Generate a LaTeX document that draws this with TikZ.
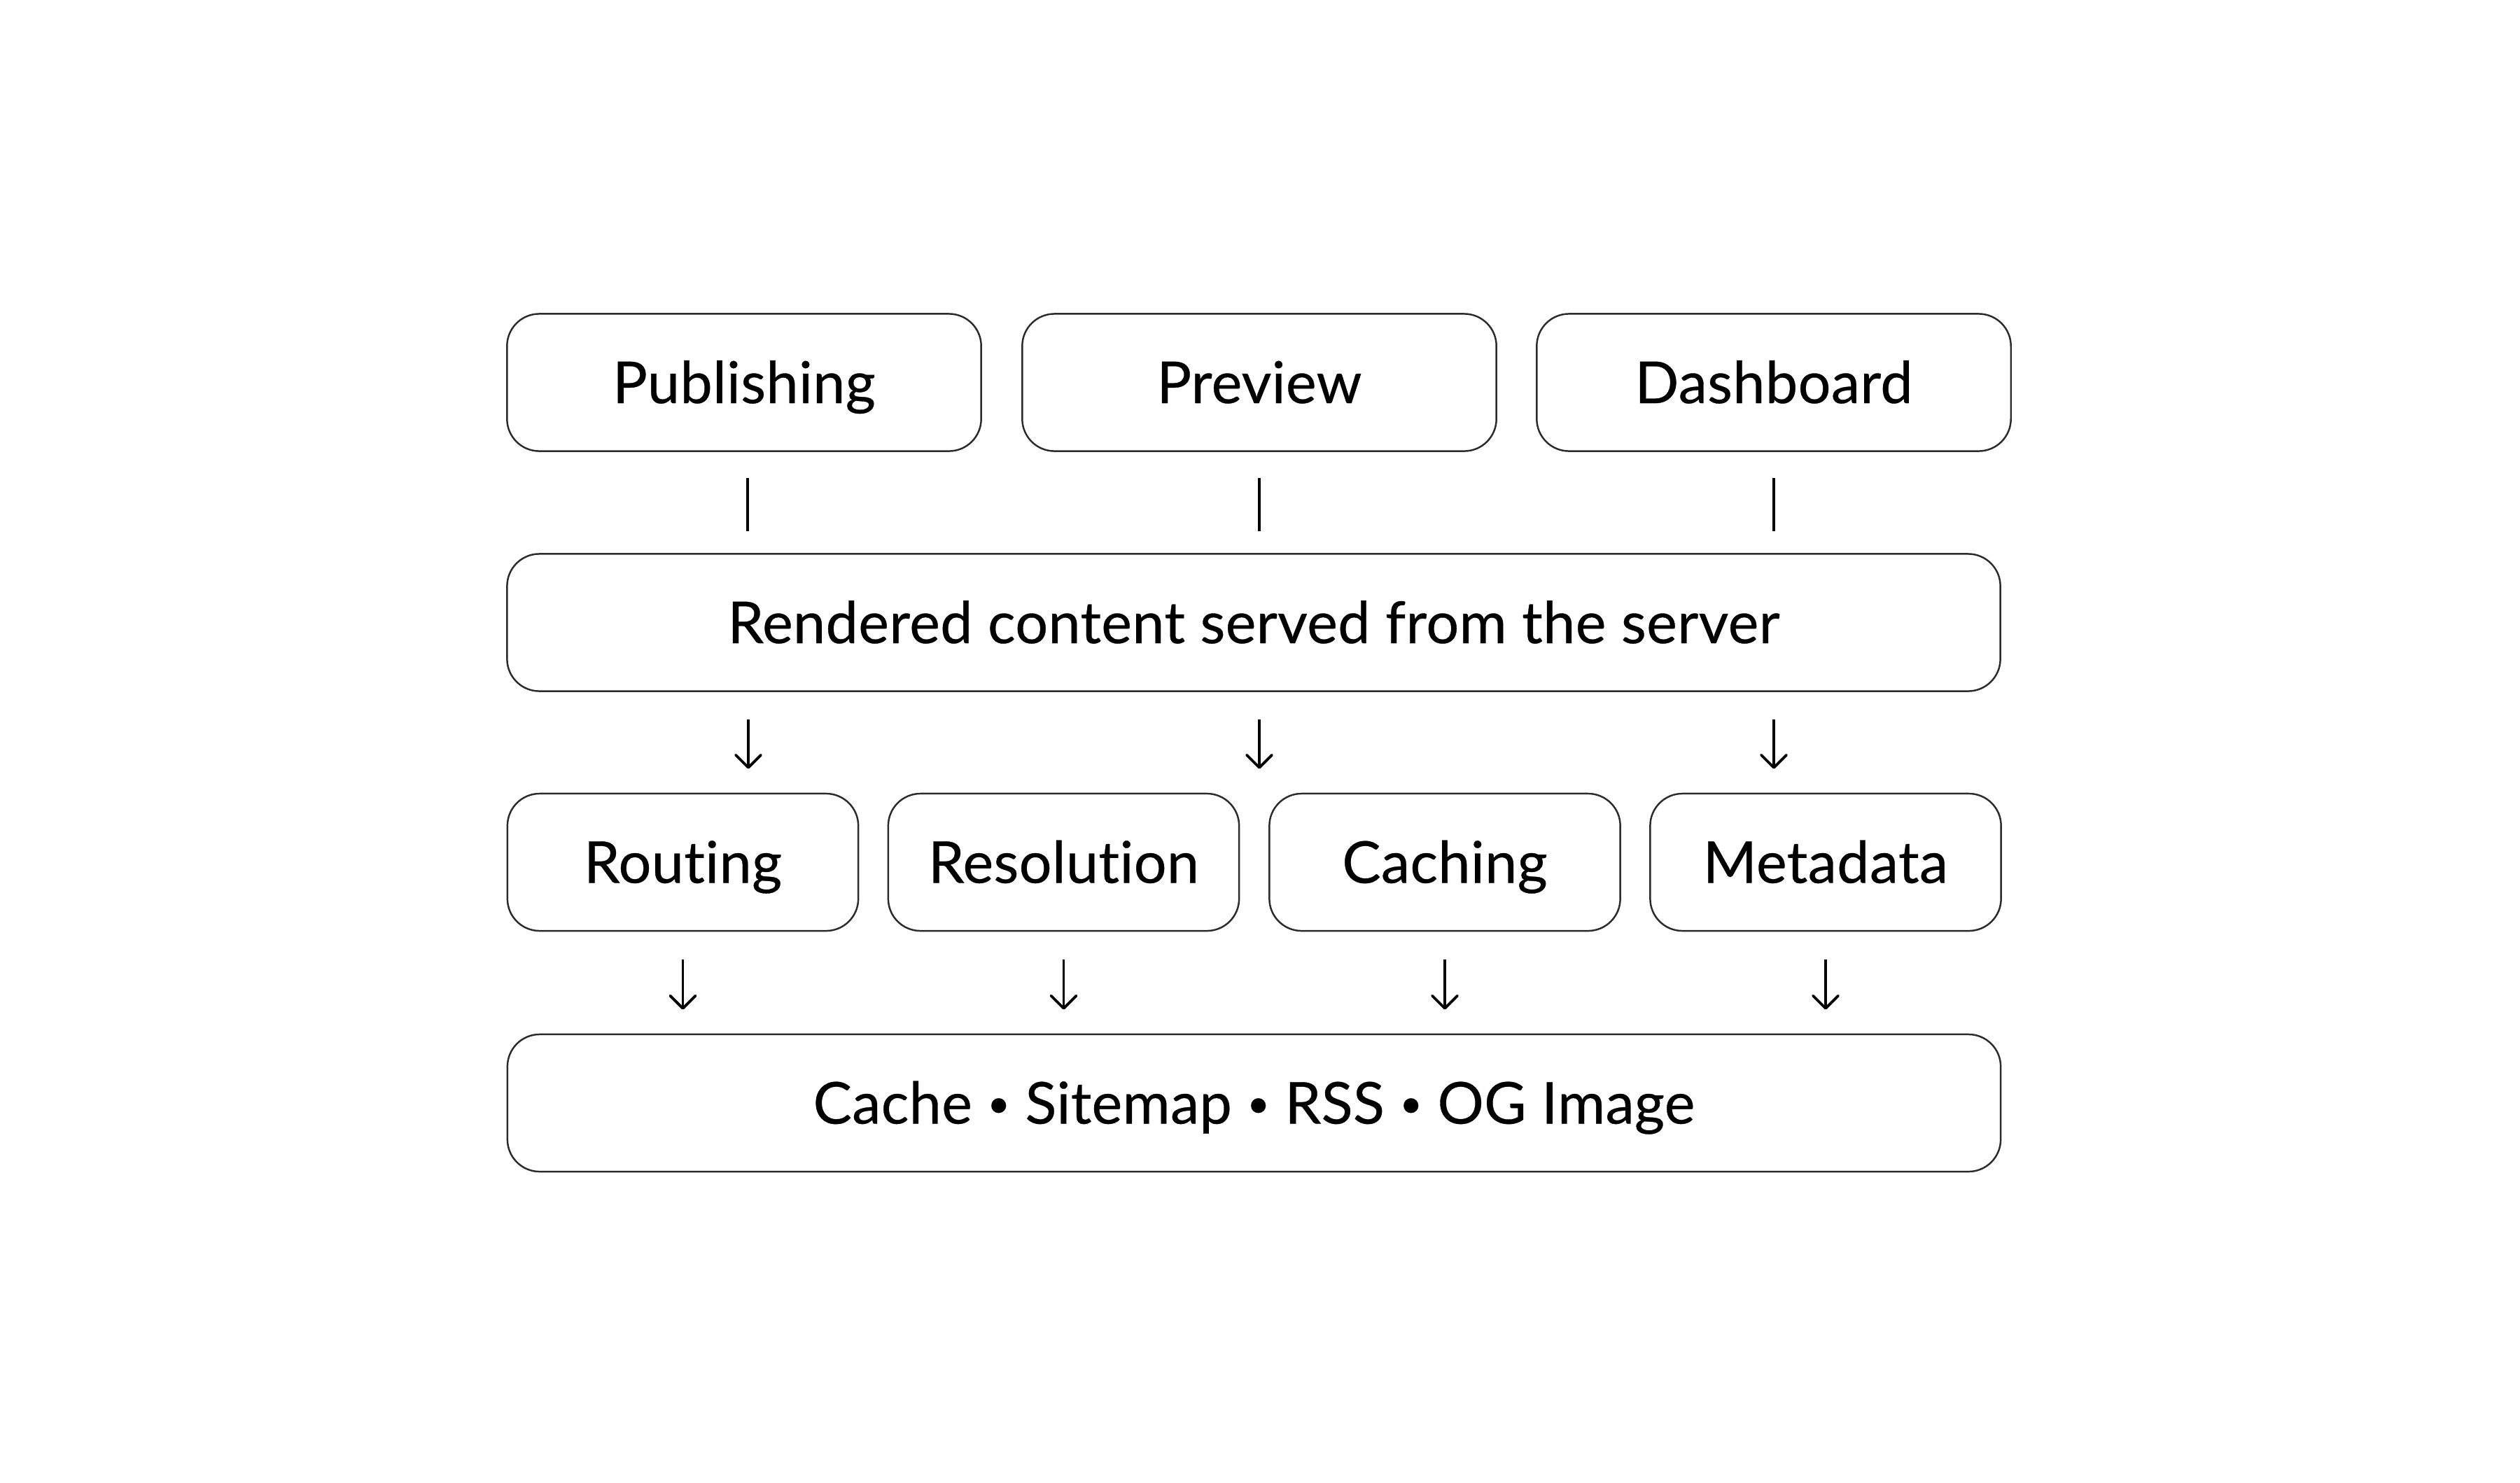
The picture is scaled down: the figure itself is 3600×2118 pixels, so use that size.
\documentclass[tikz,border=0pt]{standalone}
\usepackage{fontspec}
\setmainfont{Lato}[Ligatures=NoCommon,LetterSpace=0.5,FakeBold=0.4]
\usetikzlibrary{arrows.meta}
\definecolor{boxgray}{HTML}{2B2B2B}
\newcommand{\sepdot}{{\fontsize{16}{16}\selectfont\raisebox{0.09cm}{•}}}

\begin{document}
\begin{tikzpicture}[x=0.01cm,y=-0.01cm,
        box/.style={draw=boxgray,line width=0.7pt,rounded corners=0.46cm,
            minimum height=1.96cm,text height=0.59cm,text depth=0pt,inner sep=0pt,
            font=\fontsize{23.5}{28}\selectfont},
        top box/.style={box,minimum width=6.77cm},
        wide box/.style={box,minimum width=21.32cm},
        stage box/.style={box,minimum width=5.01cm},
        link/.style={line width=1.1pt,shorten <=0.37cm,shorten >=0.31cm},
        flow/.style={-{Straight Barb[length=0.18cm,width=0.36cm,round]},line width=1.1pt}]

    \useasboundingbox (0,0) rectangle (3600,2118);

    \node[top box] (pub) at (1063,546.5) {Publishing};
    \node[top box] (prev) at (1799,546.5) {Preview};
    \node[top box] (dash) at (2534,546.5) {Dashboard};

    \node[wide box] (rend) at (1791,889.5) {Rendered content served from the server};

    \node[stage box] (route) at (975.5,1232) {Routing};
    \node[stage box] (res) at (1519.5,1232) {Resolution};
    \node[stage box] (cache) at (2064,1232) {Caching};
    \node[stage box] (meta) at (2608,1232) {Metadata};

    \node[wide box] (out) at (1791.5,1576) {Cache \sepdot{} Sitemap \sepdot{} RSS \sepdot{} OG Image};

    \draw[link] ([xshift=0.05cm]pub.south) -- ([xshift=0.05cm]pub.south |- rend.north);
    \draw[link] (prev.south) -- (prev.south |- rend.north);
    \draw[link] (dash.south) -- (dash.south |- rend.north);

    \draw[flow,shorten <=0.39cm,shorten >=0.34cm] ([xshift=0.06cm]pub |- rend.south) -- ([xshift=0.06cm]pub |- route.north);
    \draw[flow,shorten <=0.39cm,shorten >=0.34cm] (prev |- rend.south) -- (prev |- route.north);
    \draw[flow,shorten <=0.39cm,shorten >=0.34cm] (dash |- rend.south) -- (dash |- route.north);

    \draw[flow,shorten <=0.40cm,shorten >=0.34cm] (route.south) -- (route.south |- out.north);
    \draw[flow,shorten <=0.40cm,shorten >=0.34cm] (res.south) -- (res.south |- out.north);
    \draw[flow,shorten <=0.40cm,shorten >=0.34cm] (cache.south) -- (cache.south |- out.north);
    \draw[flow,shorten <=0.40cm,shorten >=0.34cm] (meta.south) -- (meta.south |- out.north);
\end{tikzpicture}
\end{document}
